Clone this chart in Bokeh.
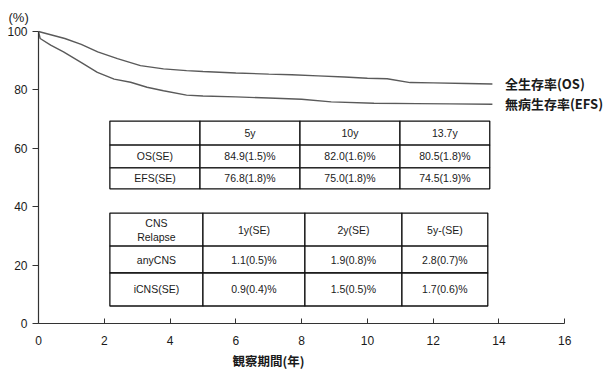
from bokeh.plotting import figure
from bokeh.models import FixedTicker, Range1d, Title
from bokeh.core.properties import value
from bokeh.embed import file_html
from bokeh.resources import INLINE

# ---- data ----
os_t = [0, 0.4, 0.8, 1.3, 1.8, 2.4, 3.1, 3.8, 4.5, 5.0, 6.0, 7.0, 7.7, 8.5, 9.3, 10.0, 10.6, 11.3, 12.0, 13.0, 13.8]
os_v = [100, 98.8, 97.6, 95.6, 93.0, 90.7, 88.3, 87.2, 86.6, 86.3, 85.8, 85.4, 85.2, 84.8, 84.4, 84.0, 83.8, 82.5, 82.4, 82.2, 82.0]
efs_t = [0, 0.05, 0.37, 0.76, 1.28, 1.79, 2.3, 2.8, 3.3, 3.8, 4.5, 5.0, 6.0, 7.0, 8.0, 8.9, 10.2, 11.5, 12.5, 13.8]
efs_v = [100, 97.6, 95.3, 93.0, 89.5, 86.0, 83.7, 82.6, 80.9, 79.7, 78.2, 77.9, 77.6, 77.2, 76.8, 75.9, 75.4, 75.3, 75.2, 75.1]

x_ticks = [0, 2, 4, 6, 8, 10, 12, 14, 16]
y_ticks = [0, 20, 40, 60, 80, 100]

series_names = ["全生存率(OS)", "無病生存率(EFS)"]
y_unit = "(%)"
x_title = "観察期間(年)"

tbl1_header = ["", "5y", "10y", "13.7y"]
tbl1_rows = ["OS(SE)", "EFS(SE)"]
tbl1_vals = [["84.9(1.5)%", "82.0(1.6)%", "80.5(1.8)%"],
             ["76.8(1.8)%", "75.0(1.8)%", "74.5(1.9)%"]]

tbl2_header = ["", "1y(SE)", "2y(SE)", "5y-(SE)"]
tbl2_corner = ["CNS", "Relapse"]
tbl2_rows = ["anyCNS", "iCNS(SE)"]
tbl2_vals = [["1.1(0.5)%", "1.9(0.8)%", "2.8(0.7)%"],
             ["0.9(0.4)%", "1.5(0.5)%", "1.7(0.6)%"]]

# ---- layout (table grid positions, in axis units) ----
tbl1_xe = [2.17, 4.91, 7.95, 10.99, 13.72]
tbl1_ye = [69.3, 61.1, 53.3, 46.1]
tbl2_xe = [2.17, 5.0, 8.1, 11.05, 13.66]
tbl2_ye = [37.8, 26.5, 17.3, 6.0]

NUM_FONT = "Liberation Sans"
JP_FONT = "Noto Sans CJK JP"
INK = "#1a1a1a"

p = figure(width=608, height=371, output_backend="svg", toolbar_location=None,
           x_range=Range1d(0, 17.33), y_range=Range1d(0, 101.7),
           min_border_left=38, min_border_right=0, min_border_top=26, min_border_bottom=48)
p.outline_line_color = None
p.grid.visible = False
p.background_fill_color = "white"

# unit label "(%)" as the title, shifted to the left of the frame
p.title.text = y_unit
p.title.align = "left"
p.title.offset = -30
p.title.standoff = 4
p.title.text_font = NUM_FONT
p.title.text_font_size = "13px"
p.title.text_font_style = "normal"
p.title.text_color = INK

# axes
p.xaxis.ticker = FixedTicker(ticks=x_ticks)
p.xaxis.bounds = (0, 16)
p.xaxis.major_tick_in = 5
p.xaxis.major_tick_out = 0
p.xaxis.minor_tick_line_color = None
p.xaxis.major_label_standoff = 12
p.yaxis.ticker = FixedTicker(ticks=y_ticks)
p.yaxis.bounds = (0, 100)
p.yaxis.major_tick_in = 0
p.yaxis.major_tick_out = 6
p.yaxis.minor_tick_line_color = None
p.yaxis.major_label_standoff = 5
for ax in (p.xaxis, p.yaxis):
    ax.axis_line_color = "#333333"
    ax.axis_line_width = 1.2
    ax.major_tick_line_color = "#333333"
    ax.major_label_text_font = NUM_FONT
    ax.major_label_text_font_size = "12px"
    ax.major_label_text_color = INK

p.add_layout(Title(text=x_title, align="left", offset=194, standoff=3,
                   text_font=JP_FONT, text_font_size="12.5px", text_font_style="bold",
                   text_color=INK), "below")

# curves
p.line(os_t, os_v, line_color="#5a5a5a", line_width=1.4)
p.line(efs_t, efs_v, line_color="#5a5a5a", line_width=1.4)

# labels at line ends
p.text(x=[os_t[-1] + 0.38, efs_t[-1] + 0.38], y=[os_v[-1] + 0.2, efs_v[-1] + 0.2], text=series_names,
       text_font=value(JP_FONT), text_font_size="13px", text_font_style="bold",
       text_color=INK, text_align="left", text_baseline="middle")

def draw_table(xe, ye, header, row_labels, vals, corner=None):
    lefts, rights, tops, bottoms = [], [], [], []
    tx, ty, tt = [], [], []
    for r in range(len(ye) - 1):
        for c in range(len(xe) - 1):
            lefts.append(xe[c]); rights.append(xe[c + 1])
            tops.append(ye[r]); bottoms.append(ye[r + 1])
            cx = (xe[c] + xe[c + 1]) / 2
            cy = (ye[r] + ye[r + 1]) / 2
            if r == 0:
                txt = header[c]
            elif c == 0:
                txt = row_labels[r - 1]
            else:
                txt = vals[r - 1][c - 1]
            if txt:
                tx.append(cx); ty.append(cy); tt.append(txt)
    p.quad(left=lefts, right=rights, top=tops, bottom=bottoms,
           fill_color="white", line_color="#111111", line_width=1.3)
    if corner:
        cx = (xe[0] + xe[1]) / 2
        h = (ye[0] - ye[1])
        for i, t in enumerate(corner):
            tx.append(cx); ty.append(ye[0] - h * (0.3 + 0.42 * i)); tt.append(t)
    p.text(x=tx, y=ty, text=tt, text_font=value(NUM_FONT), text_font_size="10.5px",
           text_color=INK, text_align="center", text_baseline="middle")

draw_table(tbl1_xe, tbl1_ye, tbl1_header, tbl1_rows, tbl1_vals)
draw_table(tbl2_xe, tbl2_ye, tbl2_header, tbl2_rows, tbl2_vals, corner=tbl2_corner)

open("out.html", "w").write(file_html(p, INLINE))
